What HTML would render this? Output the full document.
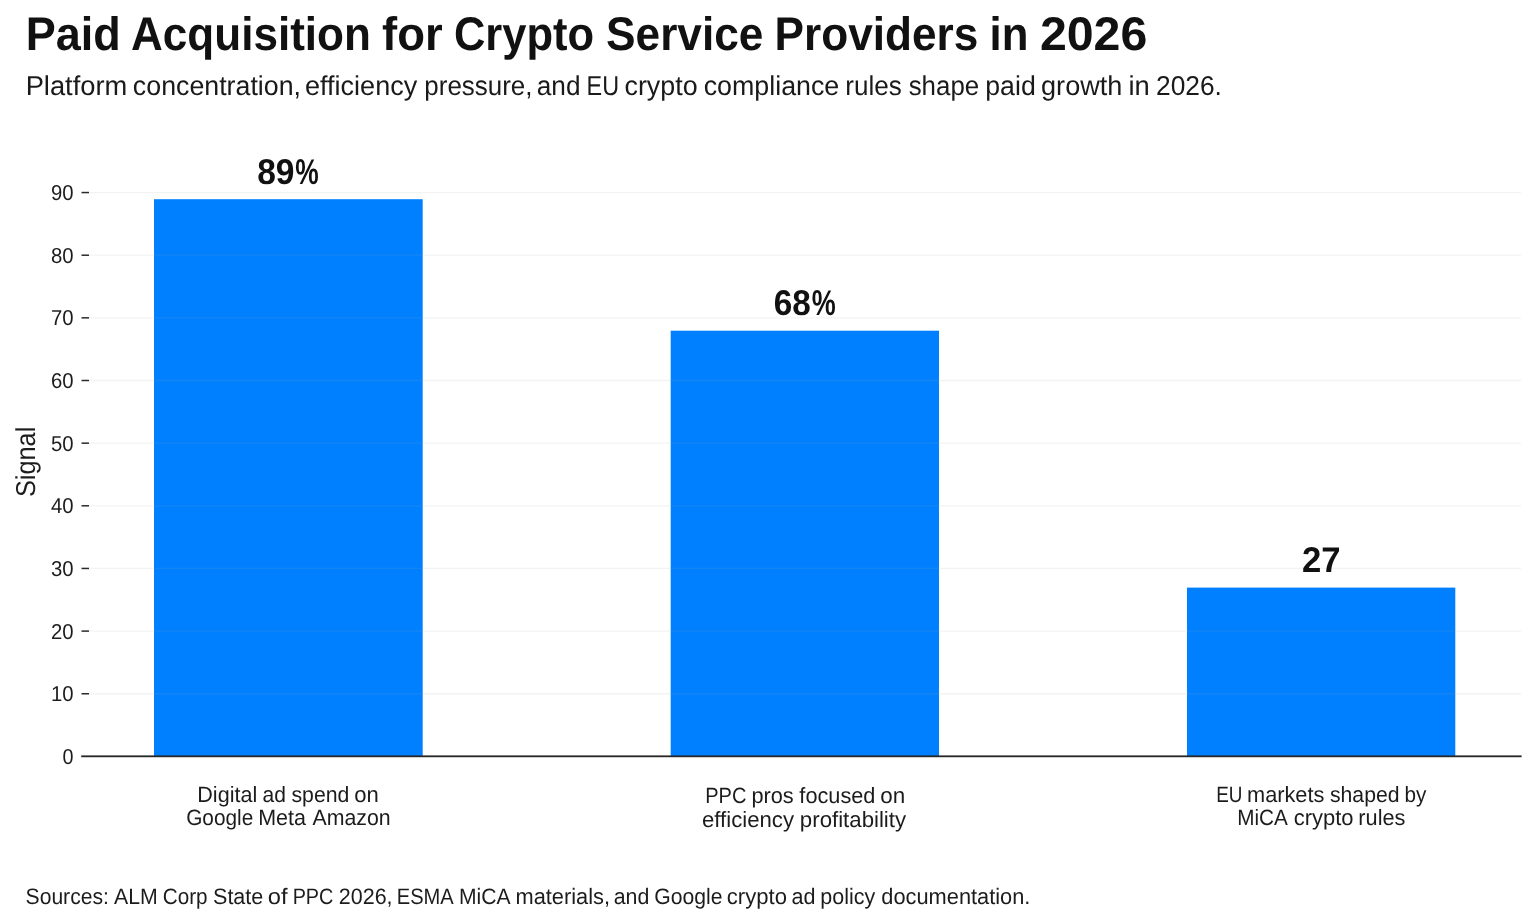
<!DOCTYPE html>
<html>
<head>
<meta charset="utf-8">
<style>
html,body{margin:0;padding:0;background:#ffffff;}
body{width:1536px;height:924px;overflow:hidden;}
svg{display:block;will-change:transform;}
text{font-family:"Liberation Sans", sans-serif;text-rendering:geometricPrecision;}
</style>
</head>
<body>
<svg width="1536" height="924" viewBox="0 0 1536 924">
<rect x="0" y="0" width="1536" height="924" fill="#ffffff"/>
<text x="25.75" y="49.7" font-size="47.1" font-weight="bold" fill="#111111" textLength="95.03" lengthAdjust="spacingAndGlyphs">Paid</text>
<text x="131.03" y="49.7" font-size="47.1" font-weight="bold" fill="#111111" textLength="239.89" lengthAdjust="spacingAndGlyphs">Acquisition</text>
<text x="382.08" y="49.7" font-size="47.1" font-weight="bold" fill="#111111" textLength="60.58" lengthAdjust="spacingAndGlyphs">for</text>
<text x="453.95" y="49.7" font-size="47.1" font-weight="bold" fill="#111111" textLength="140.16" lengthAdjust="spacingAndGlyphs">Crypto</text>
<text x="606.09" y="49.7" font-size="47.1" font-weight="bold" fill="#111111" textLength="157.30" lengthAdjust="spacingAndGlyphs">Service</text>
<text x="774.55" y="49.7" font-size="47.1" font-weight="bold" fill="#111111" textLength="203.64" lengthAdjust="spacingAndGlyphs">Providers</text>
<text x="989.58" y="49.7" font-size="47.1" font-weight="bold" fill="#111111" textLength="38.87" lengthAdjust="spacingAndGlyphs">in</text>
<text x="1039.91" y="49.7" font-size="47.1" font-weight="bold" fill="#111111" textLength="107.40" lengthAdjust="spacingAndGlyphs">2026</text>
<text x="25.65" y="94.7" font-size="27.3" fill="#1a1a1a" textLength="101.64" lengthAdjust="spacingAndGlyphs">Platform</text>
<text x="132.87" y="94.7" font-size="27.3" fill="#1a1a1a" textLength="168.16" lengthAdjust="spacingAndGlyphs">concentration,</text>
<text x="305.01" y="94.7" font-size="27.3" fill="#1a1a1a" textLength="112.23" lengthAdjust="spacingAndGlyphs">efficiency</text>
<text x="424.34" y="94.7" font-size="27.3" fill="#1a1a1a" textLength="108.08" lengthAdjust="spacingAndGlyphs">pressure,</text>
<text x="536.80" y="94.7" font-size="27.3" fill="#1a1a1a" textLength="43.72" lengthAdjust="spacingAndGlyphs">and</text>
<text x="586.57" y="94.7" font-size="27.3" fill="#1a1a1a" textLength="32.49" lengthAdjust="spacingAndGlyphs">EU</text>
<text x="624.47" y="94.7" font-size="27.3" fill="#1a1a1a" textLength="73.21" lengthAdjust="spacingAndGlyphs">crypto</text>
<text x="703.67" y="94.7" font-size="27.3" fill="#1a1a1a" textLength="135.63" lengthAdjust="spacingAndGlyphs">compliance</text>
<text x="845.33" y="94.7" font-size="27.3" fill="#1a1a1a" textLength="56.45" lengthAdjust="spacingAndGlyphs">rules</text>
<text x="908.69" y="94.7" font-size="27.3" fill="#1a1a1a" textLength="70.48" lengthAdjust="spacingAndGlyphs">shape</text>
<text x="985.29" y="94.7" font-size="27.3" fill="#1a1a1a" textLength="50.43" lengthAdjust="spacingAndGlyphs">paid</text>
<text x="1041.06" y="94.7" font-size="27.3" fill="#1a1a1a" textLength="81.32" lengthAdjust="spacingAndGlyphs">growth</text>
<text x="1128.45" y="94.7" font-size="27.3" fill="#1a1a1a" textLength="21.31" lengthAdjust="spacingAndGlyphs">in</text>
<text x="1155.99" y="94.7" font-size="27.3" fill="#1a1a1a" textLength="65.88" lengthAdjust="spacingAndGlyphs">2026.</text>
<text x="25.55" y="903.7" font-size="22.3" fill="#1c1c1c" textLength="83.34" lengthAdjust="spacingAndGlyphs">Sources:</text>
<text x="114.00" y="903.7" font-size="22.3" fill="#1c1c1c" textLength="43.77" lengthAdjust="spacingAndGlyphs">ALM</text>
<text x="162.74" y="903.7" font-size="22.3" fill="#1c1c1c" textLength="44.83" lengthAdjust="spacingAndGlyphs">Corp</text>
<text x="213.03" y="903.7" font-size="22.3" fill="#1c1c1c" textLength="50.29" lengthAdjust="spacingAndGlyphs">State</text>
<text x="267.74" y="903.7" font-size="22.3" fill="#1c1c1c" textLength="19.78" lengthAdjust="spacingAndGlyphs">of</text>
<text x="292.65" y="903.7" font-size="22.3" fill="#1c1c1c" textLength="40.72" lengthAdjust="spacingAndGlyphs">PPC</text>
<text x="338.84" y="903.7" font-size="22.3" fill="#1c1c1c" textLength="53.73" lengthAdjust="spacingAndGlyphs">2026,</text>
<text x="396.82" y="903.7" font-size="22.3" fill="#1c1c1c" textLength="56.96" lengthAdjust="spacingAndGlyphs">ESMA</text>
<text x="458.94" y="903.7" font-size="22.3" fill="#1c1c1c" textLength="51.57" lengthAdjust="spacingAndGlyphs">MiCA</text>
<text x="515.53" y="903.7" font-size="22.3" fill="#1c1c1c" textLength="94.53" lengthAdjust="spacingAndGlyphs">materials,</text>
<text x="613.74" y="903.7" font-size="22.3" fill="#1c1c1c" textLength="35.65" lengthAdjust="spacingAndGlyphs">and</text>
<text x="654.21" y="903.7" font-size="22.3" fill="#1c1c1c" textLength="68.25" lengthAdjust="spacingAndGlyphs">Google</text>
<text x="726.81" y="903.7" font-size="22.3" fill="#1c1c1c" textLength="60.15" lengthAdjust="spacingAndGlyphs">crypto</text>
<text x="791.53" y="903.7" font-size="22.3" fill="#1c1c1c" textLength="23.98" lengthAdjust="spacingAndGlyphs">ad</text>
<text x="820.25" y="903.7" font-size="22.3" fill="#1c1c1c" textLength="54.96" lengthAdjust="spacingAndGlyphs">policy</text>
<text x="881.32" y="903.7" font-size="22.3" fill="#1c1c1c" textLength="149.10" lengthAdjust="spacingAndGlyphs">documentation.</text>
<g fill="#0080ff">
<rect x="154" y="199.2" width="268.7" height="556.8"/>
<rect x="670.7" y="330.7" width="268.3" height="425.3"/>
<rect x="1187" y="587.6" width="268.3" height="168.4"/>
</g>
<g stroke="#a0a0a0" stroke-opacity="0.125" stroke-width="1.3">
<line x1="89" x2="1521" y1="693.75" y2="693.75"/>
<line x1="89" x2="1521" y1="631.10" y2="631.10"/>
<line x1="89" x2="1521" y1="568.45" y2="568.45"/>
<line x1="89" x2="1521" y1="505.80" y2="505.80"/>
<line x1="89" x2="1521" y1="443.15" y2="443.15"/>
<line x1="89" x2="1521" y1="380.50" y2="380.50"/>
<line x1="89" x2="1521" y1="317.85" y2="317.85"/>
<line x1="89" x2="1521" y1="255.20" y2="255.20"/>
<line x1="89" x2="1521" y1="192.55" y2="192.55"/>
</g>
<g stroke="#2a2a2a" stroke-width="1.5">
<line x1="81.5" x2="89" y1="693.75" y2="693.75"/>
<line x1="81.5" x2="89" y1="631.10" y2="631.10"/>
<line x1="81.5" x2="89" y1="568.45" y2="568.45"/>
<line x1="81.5" x2="89" y1="505.80" y2="505.80"/>
<line x1="81.5" x2="89" y1="443.15" y2="443.15"/>
<line x1="81.5" x2="89" y1="380.50" y2="380.50"/>
<line x1="81.5" x2="89" y1="317.85" y2="317.85"/>
<line x1="81.5" x2="89" y1="255.20" y2="255.20"/>
<line x1="81.5" x2="89" y1="192.55" y2="192.55"/>
</g>
<g fill="#262626">
<rect x="81.2" y="755" width="1440.4" height="1" fill-opacity="0.6"/>
<rect x="81.2" y="756" width="1440.4" height="1"/>
<rect x="81.2" y="757" width="1440.4" height="1" fill-opacity="0.22"/>
</g>
<g font-size="21.6" fill="#1c1c1c" text-anchor="end" transform="translate(0 -0.2)">
<text x="73.6" y="764.10" textLength="11" lengthAdjust="spacingAndGlyphs">0</text>
<text x="73.6" y="701.45" textLength="22.6" lengthAdjust="spacingAndGlyphs">10</text>
<text x="73.6" y="638.80" textLength="22.6" lengthAdjust="spacingAndGlyphs">20</text>
<text x="73.6" y="576.15" textLength="22.6" lengthAdjust="spacingAndGlyphs">30</text>
<text x="73.6" y="513.50" textLength="22.6" lengthAdjust="spacingAndGlyphs">40</text>
<text x="73.6" y="450.85" textLength="22.6" lengthAdjust="spacingAndGlyphs">50</text>
<text x="73.6" y="388.20" textLength="22.6" lengthAdjust="spacingAndGlyphs">60</text>
<text x="73.6" y="325.55" textLength="22.6" lengthAdjust="spacingAndGlyphs">70</text>
<text x="73.6" y="262.90" textLength="22.6" lengthAdjust="spacingAndGlyphs">80</text>
<text x="73.6" y="200.25" textLength="22.6" lengthAdjust="spacingAndGlyphs">90</text>
</g>
<text transform="translate(34.9 461.9) rotate(-90)" font-size="27.3" fill="#1c1c1c" text-anchor="middle" textLength="70.3" lengthAdjust="spacingAndGlyphs">Signal</text>
<text x="257.13" y="183.7" font-size="35.8" font-weight="bold" fill="#111111" textLength="37.32" lengthAdjust="spacingAndGlyphs">89</text>
<text x="295.36" y="183.7" font-size="35.8" font-weight="bold" fill="#111111" textLength="23.46" lengthAdjust="spacingAndGlyphs">%</text>
<text x="773.74" y="314.9" font-size="35.8" font-weight="bold" fill="#111111" textLength="37.07" lengthAdjust="spacingAndGlyphs">68</text>
<text x="811.65" y="314.9" font-size="35.8" font-weight="bold" fill="#111111" textLength="23.99" lengthAdjust="spacingAndGlyphs">%</text>
<text x="1301.99" y="571.8" font-size="35.8" font-weight="bold" fill="#111111" textLength="38.64" lengthAdjust="spacingAndGlyphs">27</text>
<text x="197.29" y="802.4" font-size="22.1" fill="#1c1c1c" textLength="59.98" lengthAdjust="spacingAndGlyphs">Digital</text>
<text x="262.45" y="802.4" font-size="22.1" fill="#1c1c1c" textLength="23.42" lengthAdjust="spacingAndGlyphs">ad</text>
<text x="291.48" y="802.4" font-size="22.1" fill="#1c1c1c" textLength="57.92" lengthAdjust="spacingAndGlyphs">spend</text>
<text x="354.20" y="802.4" font-size="22.1" fill="#1c1c1c" textLength="24.52" lengthAdjust="spacingAndGlyphs">on</text>
<text x="186.16" y="825.3" font-size="22.1" fill="#1c1c1c" textLength="67.08" lengthAdjust="spacingAndGlyphs">Google</text>
<text x="258.20" y="825.3" font-size="22.1" fill="#1c1c1c" textLength="47.72" lengthAdjust="spacingAndGlyphs">Meta</text>
<text x="312.60" y="825.3" font-size="22.1" fill="#1c1c1c" textLength="78.11" lengthAdjust="spacingAndGlyphs">Amazon</text>
<text x="705.22" y="803.35" font-size="22.1" fill="#1c1c1c" textLength="41.13" lengthAdjust="spacingAndGlyphs">PPC</text>
<text x="751.42" y="803.35" font-size="22.1" fill="#1c1c1c" textLength="42.30" lengthAdjust="spacingAndGlyphs">pros</text>
<text x="799.35" y="803.35" font-size="22.1" fill="#1c1c1c" textLength="76.11" lengthAdjust="spacingAndGlyphs">focused</text>
<text x="880.28" y="803.35" font-size="22.1" fill="#1c1c1c" textLength="24.96" lengthAdjust="spacingAndGlyphs">on</text>
<text x="702.00" y="827.3" font-size="22.1" fill="#1c1c1c" textLength="92.01" lengthAdjust="spacingAndGlyphs">efficiency</text>
<text x="799.89" y="827.3" font-size="22.1" fill="#1c1c1c" textLength="106.22" lengthAdjust="spacingAndGlyphs">profitability</text>
<text x="1216.20" y="802.4" font-size="22.1" fill="#1c1c1c" textLength="26.25" lengthAdjust="spacingAndGlyphs">EU</text>
<text x="1247.02" y="802.4" font-size="22.1" fill="#1c1c1c" textLength="77.39" lengthAdjust="spacingAndGlyphs">markets</text>
<text x="1329.98" y="802.4" font-size="22.1" fill="#1c1c1c" textLength="69.54" lengthAdjust="spacingAndGlyphs">shaped</text>
<text x="1404.59" y="802.4" font-size="22.1" fill="#1c1c1c" textLength="21.89" lengthAdjust="spacingAndGlyphs">by</text>
<text x="1237.26" y="825.3" font-size="22.1" fill="#1c1c1c" textLength="50.66" lengthAdjust="spacingAndGlyphs">MiCA</text>
<text x="1293.71" y="825.3" font-size="22.1" fill="#1c1c1c" textLength="59.81" lengthAdjust="spacingAndGlyphs">crypto</text>
<text x="1358.33" y="825.3" font-size="22.1" fill="#1c1c1c" textLength="47.05" lengthAdjust="spacingAndGlyphs">rules</text>
</svg>
</body>
</html>
